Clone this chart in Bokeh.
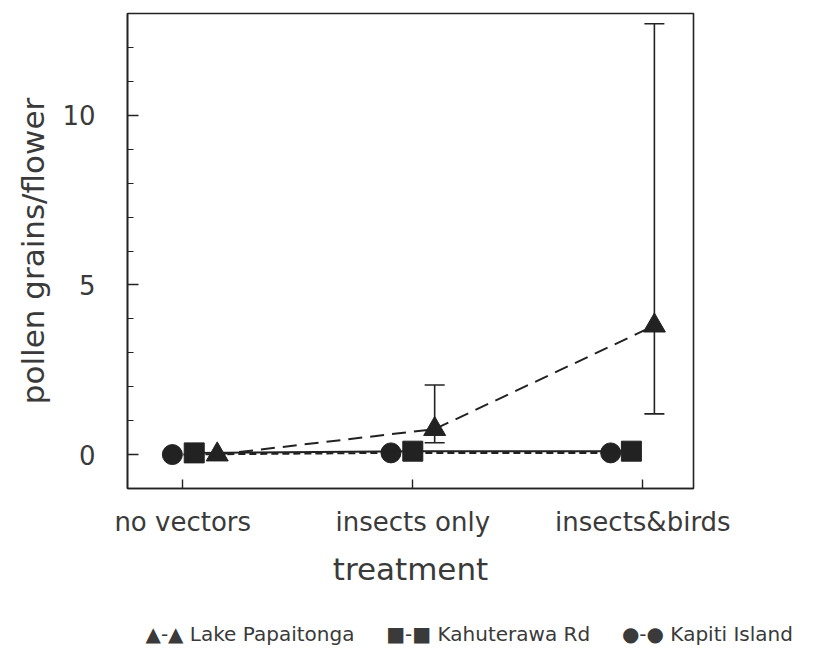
from bokeh.plotting import figure
from bokeh.layouts import column
from bokeh.models import (ColumnDataSource, FixedTicker, Whisker, TeeHead,
                          Range1d, Title)
from bokeh.embed import file_html
from bokeh.resources import INLINE

# Treatments (x categories) and tick values
treatments = ["no vectors", "insects only", "insects&birds"]
y_major_ticks = [0, 5, 10]
y_minor_ticks = list(range(0, 13))

# Mean pollen grains per flower for each site
sites = ["Lake Papaitonga", "Kahuterawa Rd", "Kapiti Island"]
papaitonga_mean = [0.0, 0.75, 3.8]
papaitonga_lower = [0.0, 0.35, 1.2]
papaitonga_upper = [0.0, 2.05, 12.7]
kahuterawa_mean = [0.05, 0.1, 0.1]
kapiti_mean = [0.0, 0.05, 0.05]

# Horizontal dodge of each site's symbol within a treatment group
papaitonga_dodge = [0.15, 0.095, 0.05]
kahuterawa_dodge = [0.05, 0.0, -0.05]
kapiti_dodge = [-0.045, -0.095, -0.14]

FONT = "DejaVu Sans"
INK = "#222222"
TEXT = "#3a3a3a"

p = figure(width=815, height=605, output_backend="svg", toolbar_location=None,
           x_range=Range1d(0.76, 3.22), y_range=Range1d(-1, 13),
           min_border_left=127, min_border_right=122,
           min_border_top=13, min_border_bottom=117)
p.background_fill_color = "white"
p.border_fill_color = "white"
p.grid.visible = False
p.outline_line_color = INK
p.outline_line_width = 1.6

positions = [i + 1 for i in range(len(treatments))]


def xs(dodge):
    return [pos + d for pos, d in zip(positions, dodge)]


# Kapiti Island
p.line(xs(kapiti_dodge), kapiti_mean, line_color=INK, line_width=2,
       line_dash="7 4")
p.scatter(xs(kapiti_dodge), kapiti_mean, marker="circle", size=20,
          fill_color=INK, line_color=INK)

# Kahuterawa Rd
p.line(xs(kahuterawa_dodge), kahuterawa_mean, line_color=INK, line_width=2)
p.scatter(xs(kahuterawa_dodge), kahuterawa_mean, marker="square", size=20,
          fill_color=INK, line_color=INK)

# Lake Papaitonga with error bars
p.line(xs(papaitonga_dodge), papaitonga_mean, line_color=INK, line_width=2,
       line_dash="14 8")
err_idx = [i for i in range(len(treatments)) if papaitonga_upper[i] > papaitonga_mean[i]]
err_src = ColumnDataSource(dict(
    x=[xs(papaitonga_dodge)[i] for i in err_idx],
    lower=[papaitonga_lower[i] for i in err_idx],
    upper=[papaitonga_upper[i] for i in err_idx],
))
whisk = Whisker(source=err_src, base="x", lower="lower", upper="upper",
                dimension="height", line_color=INK, line_width=1.6,
                upper_head=TeeHead(size=20, line_color=INK, line_width=1.6),
                lower_head=TeeHead(size=20, line_color=INK, line_width=1.6))
p.add_layout(whisk)
p.scatter(xs(papaitonga_dodge), papaitonga_mean, marker="triangle", size=22,
          fill_color=INK, line_color=INK)

# Axes
xa = p.xaxis[0]
xa.ticker = FixedTicker(ticks=positions)
xa.major_label_overrides = {pos: name for pos, name in zip(positions, treatments)}
xa.axis_label = "treatment"
ya = p.yaxis[0]
ya.ticker = FixedTicker(ticks=y_major_ticks, minor_ticks=y_minor_ticks)
ya.axis_label = "pollen grains/flower"

for ax in (xa, ya):
    ax.axis_line_color = INK
    ax.axis_line_width = 1.6
    ax.major_tick_line_color = INK
    ax.minor_tick_line_color = INK
    ax.major_tick_line_width = 1.4
    ax.minor_tick_line_width = 1.2
    ax.major_tick_out = 0
    ax.minor_tick_out = 0
    ax.major_label_text_font = FONT
    ax.major_label_text_color = TEXT
    ax.major_label_text_font_size = "26px"
    ax.axis_label_text_font = FONT
    ax.axis_label_text_color = TEXT
    ax.axis_label_text_font_style = "normal"
    ax.axis_label_text_font_size = "31px"

xa.major_tick_in = 9
xa.minor_tick_in = 0
xa.minor_tick_line_color = None
xa.major_label_standoff = 18
xa.axis_label_standoff = 11
ya.major_tick_in = 11
ya.minor_tick_in = 6
ya.major_label_standoff = 32
ya.axis_label_standoff = 8

# Key strip under the chart
symbols = ["\u25b2", "\u25a0", "\u25cf"]
gap = "\u00a0" * 5
key_text = gap.join(f"{s}-{s}\u00a0{name}" for s, name in zip(symbols, sites))

k = figure(width=815, height=50, output_backend="svg", toolbar_location=None,
           x_range=Range1d(0, 1), y_range=Range1d(0, 1),
           min_border_left=127, min_border_right=122,
           min_border_top=40, min_border_bottom=0)
k.axis.visible = False
k.grid.visible = False
k.outline_line_color = None
k.border_fill_color = "white"
k.add_layout(Title(text=key_text, align="left", offset=18, standoff=0,
                   text_font=FONT, text_font_size="20px",
                   text_font_style="normal", text_color=TEXT), "above")

open("out.html", "w").write(file_html(column(p, k, spacing=0), INLINE))
